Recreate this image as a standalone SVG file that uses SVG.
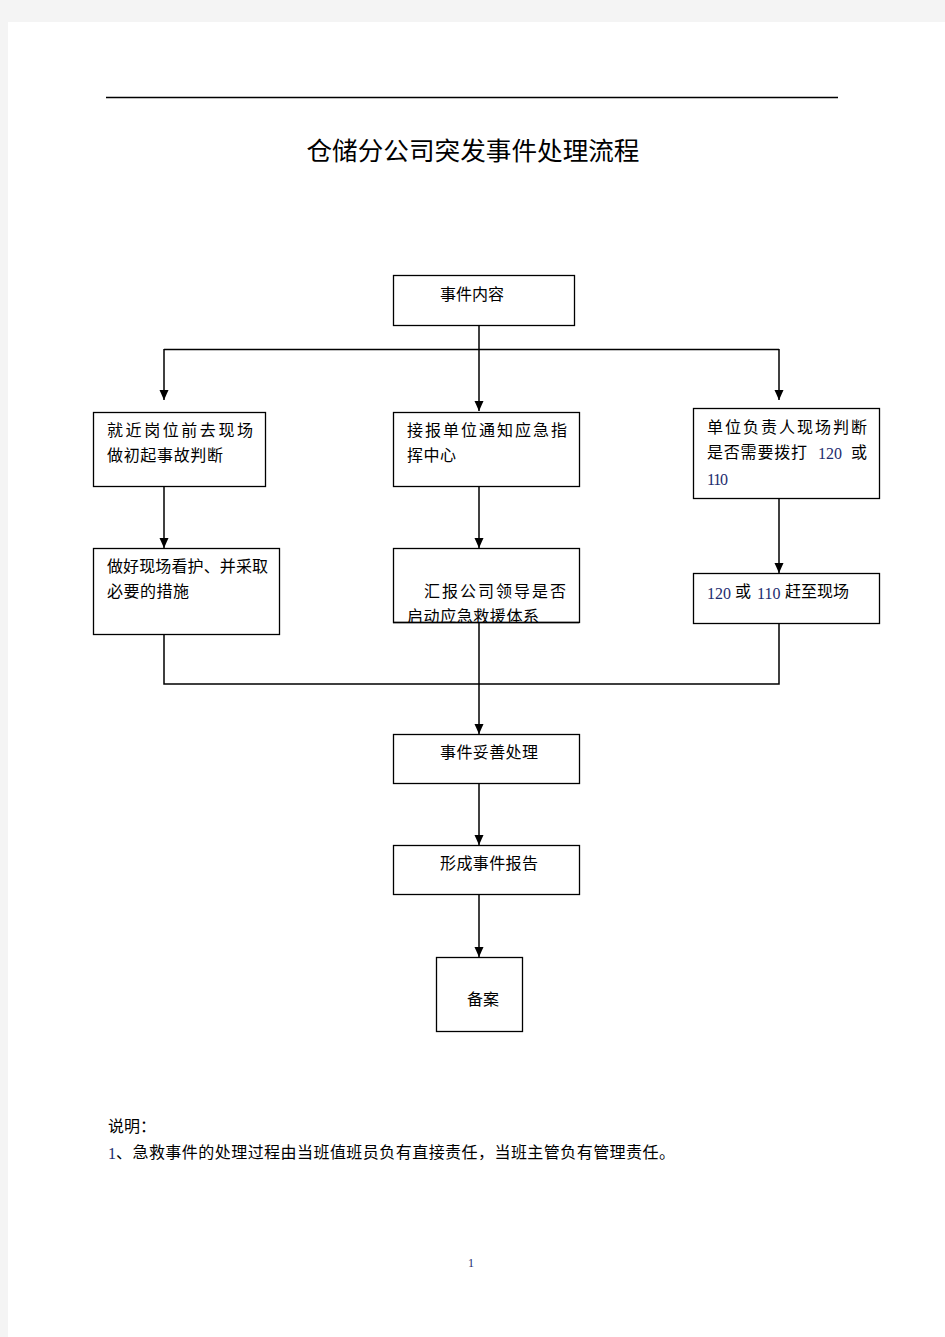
<svg xmlns="http://www.w3.org/2000/svg" width="945" height="1337" viewBox="0 0 945 1337">
<style>
.box{fill:#fff;stroke:#000;stroke-width:1.3}
.t{font-family:"Noto Sans CJK SC","Noto Sans CJK JP",sans-serif;font-size:16px;fill:#000}
.n{font-family:"Liberation Serif",serif;font-size:16px;fill:#1c2c6e}
.c{fill:none;stroke:#000;stroke-width:1.5}
</style>
<defs>
<marker id="arr" markerWidth="10" markerHeight="11" refX="10" refY="5" orient="auto" markerUnits="userSpaceOnUse" viewBox="0 0 10 10">
<path d="M0,0.5 L10,5 L0,9.5 Z" fill="#000"/>
</marker>
<clipPath id="clipMid2"><rect x="393" y="548" width="186" height="74"/></clipPath>
</defs>
<rect x="0" y="0" width="945" height="1337" fill="#f4f4f4"/>
<rect x="8" y="22" width="937" height="1315" fill="#fff"/>
<line x1="106" y1="97.5" x2="838" y2="97.5" stroke="#000" stroke-width="1.5"/>
<text x="473" y="160" text-anchor="middle" font-family="Liberation Serif,'Noto Sans CJK SC',serif" font-size="25" font-weight="400" textLength="333" lengthAdjust="spacingAndGlyphs">仓储分公司突发事件处理流程</text>

<g id="connectors">
<line class="c" x1="479" y1="325" x2="479" y2="349"/>
<line class="c" x1="164" y1="349.5" x2="779" y2="349.5"/>
<line class="c" x1="164" y1="349" x2="164" y2="400" marker-end="url(#arr)"/>
<line class="c" x1="479" y1="349" x2="479" y2="411" marker-end="url(#arr)"/>
<line class="c" x1="779" y1="349" x2="779" y2="400" marker-end="url(#arr)"/>
<line class="c" x1="164" y1="486" x2="164" y2="548" marker-end="url(#arr)"/>
<line class="c" x1="479" y1="486" x2="479" y2="548" marker-end="url(#arr)"/>
<line class="c" x1="779" y1="498" x2="779" y2="573" marker-end="url(#arr)"/>
<polyline class="c" points="164,634 164,684 779,684 779,623"/>
<line class="c" x1="479" y1="622" x2="479" y2="734" marker-end="url(#arr)"/>
<line class="c" x1="479" y1="783" x2="479" y2="845" marker-end="url(#arr)"/>
<line class="c" x1="479" y1="894" x2="479" y2="957" marker-end="url(#arr)"/>
</g>

<g id="n-event">
<rect class="box" x="393.5" y="275.5" width="181" height="50"/>
<text class="t" x="440" y="300">事件内容</text>
</g>
<g id="n-left1">
<rect class="box" x="93.5" y="412.5" width="172" height="74"/>
<text class="t" x="107" y="436" textLength="146">就近岗位前去现场</text>
<text class="t" x="107" y="461" textLength="116">做初起事故判断</text>
</g>
<g id="n-mid1">
<rect class="box" x="393.5" y="412.5" width="186" height="74"/>
<text class="t" x="407" y="436" textLength="160">接报单位通知应急指</text>
<text class="t" x="407" y="461" textLength="49">挥中心</text>
</g>
<g id="n-right1">
<rect class="box" x="693.5" y="408.5" width="186" height="90"/>
<text class="t" x="707" y="433" textLength="160">单位负责人现场判断</text>
<text class="t" x="707" y="458" textLength="100">是否需要拨打</text>
<text class="n" x="818" y="459">120</text>
<text class="t" x="851" y="458">或</text>
<text class="n" x="707" y="485" textLength="21">110</text>
</g>
<g id="n-left2">
<rect class="box" x="93.5" y="548.5" width="186" height="86"/>
<text class="t" x="107" y="572" textLength="161">做好现场看护、并采取</text>
<text class="t" x="107" y="597" textLength="82">必要的措施</text>
</g>
<g id="n-mid2">
<rect class="box" x="393.5" y="548.5" width="186" height="74"/>
<g clip-path="url(#clipMid2)">
<text class="t" x="424" y="597" textLength="142">汇报公司领导是否</text>
<text class="t" x="407" y="622" textLength="132">启动应急救援体系</text>
</g>
<line x1="393" y1="622.5" x2="579" y2="622.5" stroke="#000" stroke-width="1.3"/>
</g>
<g id="n-right2">
<rect class="box" x="693.5" y="573.5" width="186" height="50"/>
<text class="n" x="707" y="599">120</text>
<text class="t" x="735" y="597">或</text>
<text class="n" x="757" y="599">110</text>
<text class="t" x="785" y="597">赶至现场</text>
</g>
<g id="n-handle">
<rect class="box" x="393.5" y="734.5" width="186" height="49"/>
<text class="t" x="440" y="758" textLength="98">事件妥善处理</text>
</g>
<g id="n-report">
<rect class="box" x="393.5" y="845.5" width="186" height="49"/>
<text class="t" x="440" y="869" textLength="98">形成事件报告</text>
</g>
<g id="n-file">
<rect class="box" x="436.5" y="957.5" width="86" height="74"/>
<text class="t" x="467" y="1005">备案</text>
</g>

<text class="t" x="108" y="1132">说明：</text>
<text class="n" x="108" y="1159">1</text>
<text class="t" x="116" y="1158" textLength="559">、急救事件的处理过程由当班值班员负有直接责任，当班主管负有管理责任。</text>
<text x="471" y="1267" font-family="Liberation Serif,serif" font-size="12" fill="#1c2c6e" text-anchor="middle">1</text>
</svg>
